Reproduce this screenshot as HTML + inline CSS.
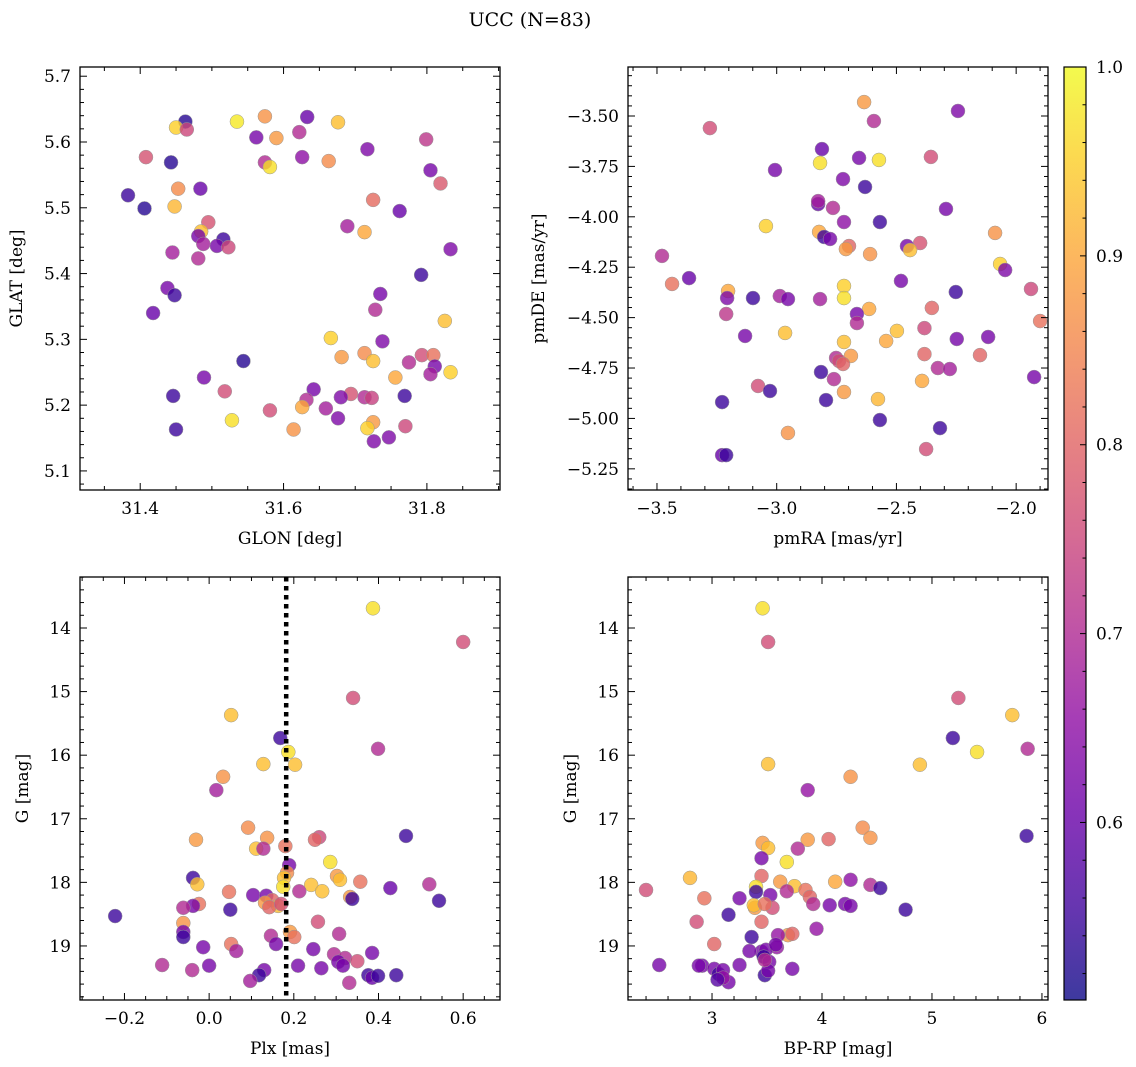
<!DOCTYPE html>
<html><head><meta charset="utf-8"><style>
body{margin:0;background:#fff}
svg{display:block}
text{font-family:"DejaVu Serif","Liberation Serif",serif;fill:#000}
</style></head><body>
<svg id="chart" width="1136" height="1067" viewBox="0 0 1136 1067" xmlns="http://www.w3.org/2000/svg">
<defs>
<linearGradient id="cbgrad" x1="0" y1="1" x2="0" y2="0">
<stop offset="0" stop-color="#0d0887"/><stop offset="0.1" stop-color="#41049d"/><stop offset="0.2" stop-color="#6a00a8"/><stop offset="0.3" stop-color="#8f0da4"/><stop offset="0.4" stop-color="#b12a90"/><stop offset="0.5" stop-color="#cc4778"/><stop offset="0.6" stop-color="#e16462"/><stop offset="0.7" stop-color="#f2844b"/><stop offset="0.8" stop-color="#fca636"/><stop offset="0.9" stop-color="#fcce25"/><stop offset="1" stop-color="#f0f921"/>
</linearGradient>
</defs>
<text x="530" y="26" font-size="19" text-anchor="middle">UCC (N=83)</text>
</svg>
<script>
// ---- Panel 1: GLON / GLAT ----
const glon=[31.463,31.450,31.465,31.535,31.574,31.633,31.676,31.562,31.590,31.622,31.799,31.408,31.574,31.581,31.626,31.717,31.443,31.663,31.805,31.819,31.453,31.484,31.383,31.725,31.406,31.448,31.762,31.495,31.485,31.689,31.713,31.481,31.516,31.488,31.507,31.523,31.445,31.833,31.481,31.792,31.438,31.448,31.735,31.418,31.728,31.825,31.738,31.544,31.666,31.681,31.713,31.725,31.775,31.793,31.809,31.811,31.805,31.833,31.756,31.489,31.642,31.518,31.694,31.680,31.713,31.723,31.446,31.769,31.632,31.626,31.659,31.581,31.676,31.725,31.528,31.770,31.450,31.614,31.717,31.747,31.726];
const glat=[5.631,5.622,5.619,5.631,5.639,5.638,5.630,5.607,5.606,5.615,5.604,5.577,5.569,5.562,5.577,5.589,5.569,5.571,5.557,5.537,5.529,5.529,5.519,5.512,5.499,5.502,5.495,5.478,5.464,5.472,5.463,5.457,5.452,5.445,5.442,5.440,5.432,5.437,5.423,5.398,5.378,5.367,5.369,5.340,5.345,5.328,5.297,5.267,5.302,5.273,5.279,5.267,5.265,5.276,5.276,5.259,5.247,5.250,5.242,5.242,5.224,5.221,5.217,5.212,5.212,5.211,5.214,5.214,5.208,5.197,5.195,5.192,5.180,5.174,5.177,5.168,5.163,5.163,5.165,5.151,5.145];
const prob1=[0.53,0.95,0.75,0.98,0.87,0.6,0.93,0.62,0.88,0.7,0.72,0.77,0.7,0.97,0.65,0.63,0.53,0.86,0.62,0.78,0.86,0.6,0.55,0.81,0.53,0.92,0.6,0.77,0.93,0.68,0.9,0.62,0.55,0.68,0.62,0.75,0.68,0.63,0.7,0.55,0.62,0.55,0.62,0.6,0.7,0.93,0.63,0.53,0.95,0.88,0.86,0.93,0.7,0.76,0.82,0.62,0.68,0.95,0.9,0.62,0.62,0.76,0.77,0.63,0.7,0.74,0.55,0.55,0.7,0.9,0.68,0.76,0.63,0.88,0.97,0.75,0.55,0.87,0.95,0.63,0.63];
// ---- Panel 2: pmRA / pmDE ----
const pmra=[-2.635,-2.243,-2.594,-3.279,-2.811,-2.656,-2.573,-2.356,-3.007,-2.819,-2.723,-2.631,-2.827,-2.827,-2.765,-2.293,-2.569,-2.719,-3.045,-2.823,-2.802,-2.777,-2.088,-2.698,-2.711,-2.610,-2.401,-2.456,-2.443,-2.067,-2.046,-3.479,-3.437,-3.366,-3.203,-3.207,-2.481,-2.252,-1.938,-2.719,-2.719,-2.987,-3.099,-2.953,-2.819,-2.614,-2.352,-3.211,-2.665,-1.900,-2.665,-3.132,-2.498,-2.965,-2.383,-2.248,-2.117,-2.543,-2.719,-2.383,-2.151,-2.690,-2.752,-2.740,-2.327,-2.723,-2.277,-2.761,-1.925,-2.815,-2.393,-3.078,-3.028,-2.719,-2.794,-2.577,-3.228,-2.569,-2.318,-2.953,-2.376,-3.228,-3.211];
const pmde=[-3.431,-3.475,-3.525,-3.560,-3.664,-3.708,-3.718,-3.703,-3.768,-3.733,-3.813,-3.852,-3.937,-3.922,-3.956,-3.961,-4.026,-4.026,-4.046,-4.075,-4.100,-4.110,-4.080,-4.145,-4.160,-4.185,-4.130,-4.145,-4.165,-4.234,-4.264,-4.194,-4.333,-4.304,-4.368,-4.403,-4.318,-4.373,-4.358,-4.343,-4.403,-4.393,-4.403,-4.408,-4.408,-4.457,-4.452,-4.482,-4.482,-4.517,-4.527,-4.591,-4.566,-4.576,-4.552,-4.606,-4.596,-4.616,-4.621,-4.681,-4.686,-4.690,-4.700,-4.715,-4.750,-4.730,-4.755,-4.805,-4.795,-4.770,-4.814,-4.839,-4.864,-4.869,-4.909,-4.904,-4.919,-5.008,-5.048,-5.072,-5.152,-5.182,-5.182];
const prob2=[0.88,0.63,0.7,0.76,0.6,0.62,0.97,0.76,0.62,0.97,0.63,0.55,0.6,0.68,0.7,0.62,0.55,0.65,0.95,0.9,0.55,0.62,0.87,0.8,0.88,0.87,0.77,0.62,0.93,0.95,0.63,0.7,0.82,0.6,0.9,0.63,0.62,0.55,0.75,0.95,0.97,0.68,0.55,0.62,0.68,0.9,0.8,0.72,0.62,0.82,0.7,0.62,0.93,0.93,0.75,0.62,0.62,0.9,0.93,0.8,0.8,0.88,0.7,0.76,0.7,0.8,0.68,0.7,0.62,0.55,0.9,0.76,0.55,0.88,0.55,0.92,0.55,0.55,0.55,0.87,0.76,0.6,0.55];
// ---- Panel 3: Plx / G ----
const plx=[0.387,0.600,0.340,0.052,0.399,0.168,0.187,0.203,0.128,0.033,0.017,0.092,0.137,0.465,0.260,0.250,-0.031,0.111,0.128,0.180,-0.038,-0.028,0.286,0.302,0.309,0.357,0.189,0.184,0.177,0.175,0.241,0.213,0.047,0.104,0.135,0.149,0.163,0.132,0.142,0.170,0.267,0.333,0.338,0.428,0.520,0.543,-0.222,-0.024,-0.038,-0.061,0.050,-0.061,0.257,-0.061,-0.061,0.146,0.191,0.201,0.307,0.052,0.064,-0.014,0.158,0.246,0.385,0.295,0.321,0.350,0.305,-0.111,0.000,-0.040,0.210,0.265,0.316,0.130,0.118,0.097,0.376,0.385,0.399,0.442,0.331];
const gmag3=[13.69,14.22,15.10,15.37,15.90,15.73,15.95,16.15,16.14,16.34,16.55,17.14,17.30,17.27,17.29,17.33,17.33,17.47,17.47,17.43,17.93,18.03,17.68,17.90,17.96,17.99,17.73,17.85,17.93,18.07,18.04,18.14,18.15,18.20,18.21,18.28,18.37,18.32,18.39,18.34,18.14,18.23,18.26,18.09,18.03,18.29,18.53,18.34,18.37,18.40,18.43,18.64,18.62,18.78,18.86,18.84,18.78,18.86,18.81,18.97,19.08,19.02,18.97,19.05,19.11,19.13,19.19,19.24,19.25,19.30,19.31,19.38,19.31,19.35,19.31,19.38,19.46,19.55,19.46,19.50,19.47,19.46,19.58];
const prob3=[0.97,0.76,0.76,0.93,0.7,0.55,0.97,0.93,0.93,0.87,0.68,0.86,0.87,0.55,0.75,0.8,0.88,0.93,0.7,0.82,0.55,0.93,0.97,0.88,0.93,0.82,0.62,0.86,0.93,0.97,0.93,0.7,0.82,0.62,0.62,0.8,0.93,0.88,0.8,0.76,0.93,0.88,0.55,0.6,0.7,0.55,0.55,0.82,0.62,0.7,0.55,0.87,0.76,0.62,0.55,0.7,0.88,0.82,0.7,0.82,0.68,0.62,0.62,0.62,0.62,0.7,0.7,0.76,0.62,0.7,0.62,0.7,0.62,0.62,0.62,0.62,0.55,0.68,0.55,0.6,0.55,0.55,0.7];
const plxLine=0.182;
// ---- Panel 4: BP-RP / G ----
const bprp=[3.46,3.51,5.24,5.73,5.87,5.19,5.41,4.89,3.51,4.26,3.87,4.37,4.44,5.86,4.06,3.87,3.46,3.51,3.78,3.45,3.68,3.45,2.80,3.75,3.62,3.40,4.12,4.26,4.44,3.85,4.53,3.40,3.53,3.25,2.93,2.40,3.89,3.39,3.55,3.92,4.21,4.26,4.07,4.76,3.68,3.38,3.48,3.15,2.86,3.45,3.69,3.95,3.36,3.73,3.60,3.02,3.59,3.45,3.49,3.58,3.47,3.52,3.34,3.73,2.52,2.91,2.88,3.25,3.02,3.06,3.10,3.15,3.48,3.51,3.10,3.05,3.48];
const gmag4=[13.69,14.22,15.10,15.37,15.90,15.73,15.95,16.15,16.14,16.34,16.55,17.14,17.30,17.27,17.32,17.33,17.38,17.46,17.47,17.62,17.68,17.90,17.93,18.06,17.99,18.07,17.99,17.96,18.04,18.12,18.09,18.15,18.20,18.25,18.25,18.12,18.23,18.40,18.40,18.34,18.34,18.37,18.36,18.43,18.14,18.36,18.34,18.51,18.62,18.62,18.83,18.73,18.86,18.81,18.83,18.97,19.02,19.09,19.06,18.98,19.17,19.25,19.08,19.36,19.30,19.31,19.31,19.30,19.36,19.44,19.38,19.57,19.46,19.39,19.50,19.53,19.22];
const prob4=[0.97,0.76,0.76,0.93,0.7,0.55,0.97,0.93,0.93,0.87,0.66,0.86,0.87,0.55,0.8,0.88,0.88,0.93,0.7,0.62,0.97,0.8,0.92,0.93,0.88,0.97,0.9,0.65,0.7,0.82,0.55,0.55,0.62,0.62,0.82,0.76,0.8,0.88,0.76,0.7,0.62,0.62,0.62,0.55,0.7,0.93,0.82,0.55,0.76,0.8,0.88,0.66,0.55,0.8,0.66,0.8,0.66,0.62,0.62,0.62,0.55,0.62,0.62,0.62,0.62,0.62,0.62,0.62,0.62,0.55,0.62,0.62,0.55,0.62,0.66,0.58,0.7];
// tick labels
const ticks1x=[31.4,31.6,31.8], ticks1y=[5.1,5.2,5.3,5.4,5.5,5.6,5.7];
const ticks2x=[-3.5,-3.0,-2.5,-2.0], ticks2y=[-5.25,-5.00,-4.75,-4.50,-4.25,-4.00,-3.75,-3.50];
const ticks3x=[-0.2,0.0,0.2,0.4,0.6], ticksG=[14,15,16,17,18,19];
const ticks4x=[3,4,5,6];
const cbTicks=[0.6,0.7,0.8,0.9,1.0];
const cmin=0.506, cmax=1.0;

const NS='http://www.w3.org/2000/svg';
const svg=document.getElementById('chart');
const stops=['#0d0887','#41049d','#6a00a8','#8f0da4','#b12a90','#cc4778','#e16462','#f2844b','#fca636','#fcce25','#f0f921'].map(h=>[parseInt(h.slice(1,3),16),parseInt(h.slice(3,5),16),parseInt(h.slice(5,7),16)]);
function cmap(v){let t=Math.max(0,Math.min(1,(v-cmin)/(cmax-cmin)))*10;let i=Math.min(9,Math.floor(t)),f=t-i;const a=stops[i],b=stops[i+1];return 'rgb('+a.map((c,k)=>Math.round(c+(b[k]-c)*f)).join(',')+')';}
function el(tag,attrs,parent){const e=document.createElementNS(NS,tag);for(const k in attrs)e.setAttribute(k,attrs[k]);(parent||svg).appendChild(e);return e;}
function fmt(v,d){return (v<0?'\u2212':'')+Math.abs(v).toFixed(d);}

function panel(o){
  const g=el('g',{});
  
  
  const sx=v=>o.x0+(v-o.xmin)/(o.xmax-o.xmin)*(o.x1-o.x0);
  const sy=o.yinv?(v=>o.y0+(v-o.ymin)/(o.ymax-o.ymin)*(o.y1-o.y0)):(v=>o.y1-(v-o.ymin)/(o.ymax-o.ymin)*(o.y1-o.y0));
  // points
  const pg=el('g',{},g);
  
  
  o.xs.forEach((xv,i)=>{
    const c=el('circle',{cx:sx(xv),cy:sy(o.ys[i]),r:7,fill:cmap(o.cs[i]),'fill-opacity':0.8,stroke:'#999','stroke-width':0.5},pg);
    
    
  });
  if(o.vline!==undefined){
    const l=el('line',{x1:sx(o.vline),x2:sx(o.vline),y1:o.y0,y2:o.y1,stroke:'#000','stroke-width':4.5,'stroke-dasharray':'4.5,4.5'},g);
    
    
  }
  // frame
  const fr=el('rect',{x:o.x0,y:o.y0,width:o.x1-o.x0,height:o.y1-o.y0,fill:'none',stroke:'#000','stroke-width':1.3},g);
  
  
  // ticks
  const tg=el('g',{stroke:'#000','stroke-width':1},g);
  const eps=1e-9;
  for(let v=Math.ceil(o.xmin/o.xminor-eps)*o.xminor;v<=o.xmax+eps;v+=o.xminor){
    const X=sx(v);const maj=Math.abs(v/o.xmajor-Math.round(v/o.xmajor))<1e-6;const L=maj?7:4;
    el('line',{x1:X,x2:X,y1:o.y1,y2:o.y1-L},tg);el('line',{x1:X,x2:X,y1:o.y0,y2:o.y0+L},tg);
  }
  for(let v=Math.ceil(o.ymin/o.yminor-eps)*o.yminor;v<=o.ymax+eps;v+=o.yminor){
    const Y=sy(v);const maj=Math.abs(v/o.ymajor-Math.round(v/o.ymajor))<1e-6;const L=maj?7:4;
    el('line',{x1:o.x0,x2:o.x0+L,y1:Y,y2:Y},tg);el('line',{x1:o.x1,x2:o.x1-L,y1:Y,y2:Y},tg);
  }
  o.xt.forEach(v=>{const t=el('text',{x:sx(v),y:o.y1+24,'font-size':17,'text-anchor':'middle'},g);t.textContent=fmt(v,o.xd);
    
    });
  o.yt.forEach(v=>{const t=el('text',{x:o.x0-9,y:sy(v)+6,'font-size':17,'text-anchor':'end'},g);t.textContent=fmt(v,o.yd);
    
    });
  const xl=el('text',{x:(o.x0+o.x1)/2,y:o.y1+54,'font-size':17,'text-anchor':'middle'},g);xl.textContent=o.xlab;
  
  
  const ly=(o.y0+o.y1)/2;
  const yl=el('text',{x:o.ylx,y:ly,'font-size':17,'text-anchor':'middle',transform:'rotate(-90 '+o.ylx+' '+ly+')'},g);yl.textContent=o.ylab;
  
  
}
panel({name:'glon-glat-panel',x0:80,x1:500,y0:67,y1:490,xmin:31.316,xmax:31.902,ymin:5.071,ymax:5.714,xs:glon,ys:glat,cs:prob1,xmajor:0.2,xminor:0.05,ymajor:0.1,yminor:0.02,xt:ticks1x,yt:ticks1y,xd:1,yd:1,xlab:'GLON [deg]',ylab:'GLAT [deg]',ylx:22});
panel({name:'proper-motion-panel',x0:628,x1:1048,y0:67,y1:490,xmin:-3.621,xmax:-1.867,ymin:-5.355,ymax:-3.257,xs:pmra,ys:pmde,cs:prob2,xmajor:0.5,xminor:0.1,ymajor:0.25,yminor:0.05,xt:ticks2x,yt:ticks2y,xd:1,yd:2,xlab:'pmRA [mas/yr]',ylab:'pmDE [mas/yr]',ylx:544});
panel({name:'plx-g-panel',x0:80,x1:500,y0:577,y1:1000,xmin:-0.305,xmax:0.687,ymin:13.198,ymax:19.85,yinv:true,xs:plx,ys:gmag3,cs:prob3,xmajor:0.2,xminor:0.05,ymajor:1,yminor:0.2,xt:ticks3x,yt:ticksG,xd:1,yd:0,xlab:'Plx [mas]',ylab:'G [mag]',ylx:28,vline:plxLine});
panel({name:'cmd-panel',x0:628,x1:1048,y0:577,y1:1000,xmin:2.236,xmax:6.055,ymin:13.198,ymax:19.85,yinv:true,xs:bprp,ys:gmag4,cs:prob4,xmajor:1,xminor:0.2,ymajor:1,yminor:0.2,xt:ticks4x,yt:ticksG,xd:0,yd:0,xlab:'BP-RP [mag]',ylab:'G [mag]',ylx:576});
// colorbar
const cb=el('g',{});


const cy0=67,cy1=1000,cx0=1064,cx1=1086;
el('rect',{x:cx0,y:cy0,width:cx1-cx0,height:cy1-cy0,fill:'url(#cbgrad)','fill-opacity':0.8},cb);
el('rect',{x:cx0,y:cy0,width:cx1-cx0,height:cy1-cy0,fill:'none',stroke:'#000','stroke-width':1.2},cb);
const cby=v=>cy1-(v-cmin)/(cmax-cmin)*(cy1-cy0);
for(let k=Math.ceil(cmin/0.02);k*0.02<=cmax+1e-9;k++){const v=k*0.02;const maj=k%5===0;el('line',{x1:cx1,x2:cx1-(maj?6:3.5),y1:cby(v),y2:cby(v),stroke:'#000','stroke-width':1},cb);}
cbTicks.forEach(v=>{const t=el('text',{x:cx1+10,y:cby(v)+6,'font-size':17},cb);t.textContent=v.toFixed(1);
  
  });
</script>
</body></html>
